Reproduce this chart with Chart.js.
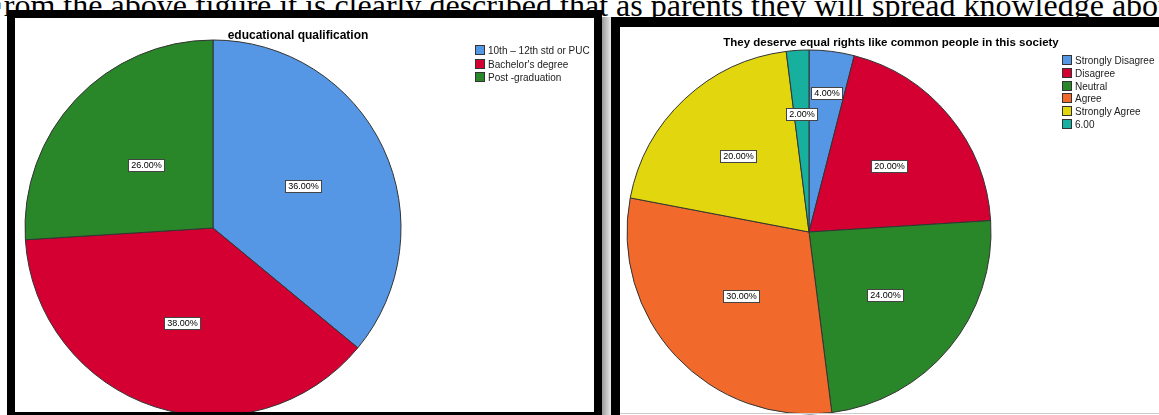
<!DOCTYPE html>
<html lang="en">
  <head>
    <meta charset="UTF-8" />
    <script src="https://cdn.jsdelivr.net/npm/chart.js"></script>
    <title>Pie charts</title>
    <style>
      body { margin: 0; width: 1159px; height: 415px; overflow: hidden; position: relative; background: #fff;
             font-family: "Liberation Sans", Arial, sans-serif; }
      .caption { position: absolute; left: -14px; top: -11px; font: 32px/32px "Liberation Serif", "Times New Roman", serif;
                 white-space: nowrap; color: #000; }
      .panel { position: absolute; background: #fff; border: 0 solid #000; box-sizing: border-box; overflow: hidden; }
      #leftPanel { left: 7px; top: 10px; width: 595px; height: 410px; border-width: 8px; }
      #rightPanel { left: 611px; top: 17px; width: 560px; height: 410px; border-left-width: 9px; border-top-width: 10px; }
      .inner { position: absolute; left: 0; top: 0; right: 0; bottom: 0; overflow: hidden; }
      .title { position: absolute; font-weight: bold; color: #000; white-space: nowrap; transform: translateX(-50%); }
      .legend { position: absolute; font-size: 10px; white-space: nowrap; color: #222; }
      .legend .box { display: inline-block; width: 8px; height: 8px; border: 1px solid #333; vertical-align: -1px; margin-right: 3px; }
      canvas { position: absolute; left: 0; top: 0; }
      .shadow { position: absolute; left: 602px; top: 17px; width: 9px; height: 398px;
                background: linear-gradient(to right, #9a9a9a, #e8e8e8); }
      .baseLine { position: absolute; left: 620px; top: 413px; width: 539px; height: 1px; background: #ccc; }
    </style>
  </head>
  <body>
    <div class="caption">From the above figure it is clearly described that as parents they will spread knowledge about</div>

    <div class="panel" id="leftPanel">
      <div class="inner">
        <canvas id="eduChart" width="579" height="402"></canvas>
        <div class="title" style="left:283px; top:10px; font-size:12px;">educational qualification</div>
        <div class="legend" id="eduLegend" style="left:460px; top:26px; line-height:13.5px;"></div>
      </div>
    </div>

    <div class="shadow"></div>

    <div class="panel" id="rightPanel">
      <div class="inner">
        <canvas id="rightsChart" width="539" height="400"></canvas>
        <div class="title" style="left:271px; top:9px; font-size:11.5px;">They deserve equal rights like common people in this society</div>
        <div class="legend" id="rightsLegend" style="left:442px; top:28px; line-height:12.8px;"></div>
      </div>
    </div>
    <div class="baseLine"></div>

    <script>
      // educational qualification (percent of respondents)
      const eduLabels = ['10th \u2013 12th std or PUC', "Bachelor's degree", 'Post -graduation'];
      const eduValues = [36, 38, 26];
      const eduColors = ['#5597e4', '#d50032', '#2a8729'];

      // equal rights question (percent of respondents)
      const rightsLabels = ['Strongly Disagree', 'Disagree', 'Neutral', 'Agree', 'Strongly Agree', '6.00'];
      const rightsValues = [4, 20, 24, 30, 20, 2];
      const rightsColors = ['#5597e4', '#d50032', '#2a8729', '#f26a2b', '#e2d60e', '#17b09f'];

      // legend built from the same arrays
      function buildLegend(id, labels, colors) {
        const el = document.getElementById(id);
        labels.forEach((label, i) => {
          const row = document.createElement('div');
          const box = document.createElement('span');
          box.className = 'box';
          box.style.background = colors[i];
          row.appendChild(box);
          row.appendChild(document.createTextNode(label));
          el.appendChild(row);
        });
      }

      // boxed percentage labels inside the slices
      const pctLabels = {
        id: 'pctLabels',
        afterDatasetsDraw(chart, args, opts) {
          const ctx = chart.ctx;
          const meta = chart.getDatasetMeta(0);
          const values = chart.data.datasets[0].data;
          const total = values.reduce((a, b) => a + b, 0);
          ctx.save();
          ctx.font = '9px "Liberation Sans", Arial, sans-serif';
          ctx.textAlign = 'center';
          ctx.textBaseline = 'middle';
          meta.data.forEach((arc, i) => {
            const p = arc.getProps(['x', 'y', 'startAngle', 'endAngle', 'outerRadius'], true);
            const mid = (p.startAngle + p.endAngle) / 2;
            const d = p.outerRadius * opts.dist[i];
            const cx = p.x + Math.cos(mid) * d;
            const cy = p.y + Math.sin(mid) * d;
            const text = (values[i] / total * 100).toFixed(2) + '%';
            const w = Math.round(ctx.measureText(text).width) + 5;
            const h = 12;
            const bx = Math.round(cx - w / 2) + 0.5;
            const by = Math.round(cy - h / 2) + 0.5;
            ctx.fillStyle = '#fff';
            ctx.fillRect(bx, by, w, h);
            ctx.strokeStyle = '#444';
            ctx.lineWidth = 1;
            ctx.strokeRect(bx, by, w, h);
            ctx.fillStyle = '#000';
            ctx.fillText(text, bx + w / 2, by + h / 2 + 0.5);
          });
          ctx.restore();
        }
      };

      function makePie(canvasId, labels, values, colors, radius, padding, dist) {
        return new Chart(document.getElementById(canvasId), {
          type: 'pie',
          data: {
            labels: labels,
            datasets: [{
              data: values,
              backgroundColor: colors,
              borderColor: '#333',
              borderWidth: 1,
              hoverOffset: 0
            }]
          },
          options: {
            responsive: false,
            animation: false,
            events: [],
            radius: radius,
            layout: { padding: padding },
            plugins: {
              legend: { display: false },
              tooltip: { enabled: false },
              pctLabels: { dist: dist }
            }
          },
          plugins: [pctLabels]
        });
      }

      buildLegend('eduLegend', eduLabels, eduColors);
      buildLegend('rightsLegend', rightsLabels, rightsColors);

      makePie('eduChart', eduLabels, eduValues, eduColors, 188,
        { left: 8, right: 191, top: 20, bottom: 2 }, [0.53, 0.53, 0.49]);
      makePie('rightsChart', rightsLabels, rightsValues, rightsColors, 182,
        { left: 5, right: 166, top: 21, bottom: 11 }, [0.77, 0.57, 0.54, 0.51, 0.57, 0.65]);
    </script>
  </body>
</html>
